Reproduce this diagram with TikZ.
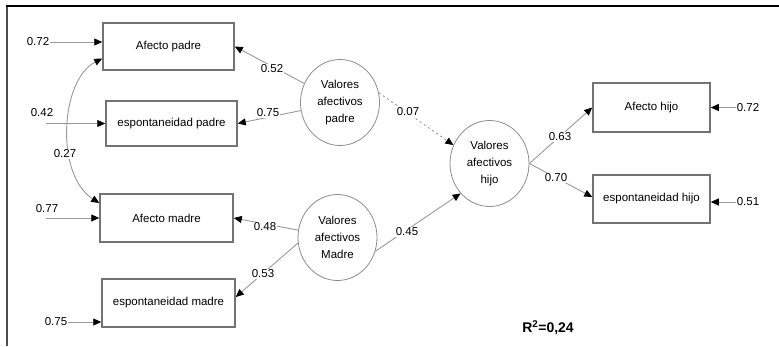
\documentclass[tikz,border=0pt]{standalone}
\usepackage{fontspec}
\setmainfont{Liberation Sans}
\usetikzlibrary{arrows.meta,shapes.geometric}
\begin{document}
\begin{tikzpicture}[x=1pt,y=-1pt,
  box/.style={draw=black!55, line width=1.5pt, rectangle, inner sep=0pt, font=\fontsize{11.5}{13}\selectfont},
  lat/.style={draw=black!45, line width=0.8pt, ellipse, inner sep=0pt, minimum width=79pt, minimum height=86pt, align=center, font=\fontsize{11.5}{17}\selectfont},
  lbl/.style={fill=white, inner sep=1pt, font=\fontsize{11.5}{13}\selectfont},
  conn/.style={draw=black!40, line width=0.9pt, -{Triangle[black,length=8pt,width=7pt]}},
  dbl/.style={draw=black!40, line width=0.9pt, {Triangle[black,length=8pt,width=7pt]}-{Triangle[black,length=8pt,width=7pt]}},
  ]
\useasboundingbox (0,0) rectangle (779,346);
% frame
\draw[line width=2pt, black!70] (7,346) -- (7,5);
\draw[line width=2pt, black] (6,6) -- (779,6);

% observed variables
\node[box, minimum width=131pt, minimum height=47pt] (ap) at (168.5,46.5) {Afecto padre};
\node[box, minimum width=131pt, minimum height=45pt] (ep) at (171.5,123.5) {espontaneidad padre};
\node[box, minimum width=133pt, minimum height=48pt] (am) at (166.5,218) {Afecto madre};
\node[box, minimum width=133pt, minimum height=48pt] (em) at (168.5,303) {espontaneidad madre};
\node[box, minimum width=117pt, minimum height=49pt] (ah) at (651.5,107.5) {Afecto hijo};
\node[box, minimum width=117pt, minimum height=48pt] (eh) at (651.5,199) {espontaneidad hijo};

% latent variables
\node[lat] (vp) at (340,102.5) {Valores\\afectivos\\padre};
\node[lat] (vm) at (337.5,237.5) {Valores\\afectivos\\Madre};
\node[lat] (vh) at (489.5,163.5) {Valores\\afectivos\\hijo};

% error terms
\node[lbl] (e1) at (38,42) {0.72};
\node[lbl] (e2) at (42,113) {0.42};
\coordinate (s2) at (46,123.5);
\node[lbl] (e3) at (47,209) {0.77};
\coordinate (s3) at (46,218);
\node[lbl] (e4) at (56,322) {0.75};
\node[lbl] (e5) at (748,107.5) {0.72};
\node[lbl] (e6) at (748,202) {0.51};

\draw[conn] (e1.east) -- ([yshift=4.5pt]ap.west);
\draw[conn] (s2) -- (ep.west);
\draw[conn] (s3) -- (am.west);
\draw[conn] (e4.east) -- ([yshift=-19pt]em.west);
\draw[conn] (e5.west) -- (ah.east);
\draw[conn] (e6.west) -- ([yshift=-3pt]eh.east);

% correlation
\draw[dbl] ([yshift=-12pt]ap.west) .. controls (60,80) and (55,175) .. ([yshift=15pt]am.west)
  node[lbl] at (65,154) {0.27};

% loadings and paths
\draw[conn] (vp) -- (ap.east) node[lbl] at (272,69) {0.52};
\draw[conn] (vp) -- (ep.east) node[lbl] at (268,113) {0.75};
\draw[conn, dash pattern=on 2pt off 3pt] (vp.14) -- (vh.153) node[lbl] at (408,112) {0.07};
\draw[conn] (vm) -- (am.east) node[lbl] at (265,227) {0.48};
\draw[conn] (vm.188) -- ([yshift=6pt]em.east) node[lbl] at (263,274) {0.53};
\draw[conn] (vm.-20) -- (vh.226) node[lbl] at (407,232) {0.45};
\draw[conn] (vh.east) -- (ah.west) node[lbl] at (560,137) {0.63};
\draw[conn] (vh.east) -- ([yshift=2pt]eh.west) node[lbl] at (556,178) {0.70};

\node[font=\fontsize{14}{16}\selectfont\bfseries] (r2) at (548,328) {R\textsuperscript{2}=0,24};
\end{tikzpicture}
\end{document}
